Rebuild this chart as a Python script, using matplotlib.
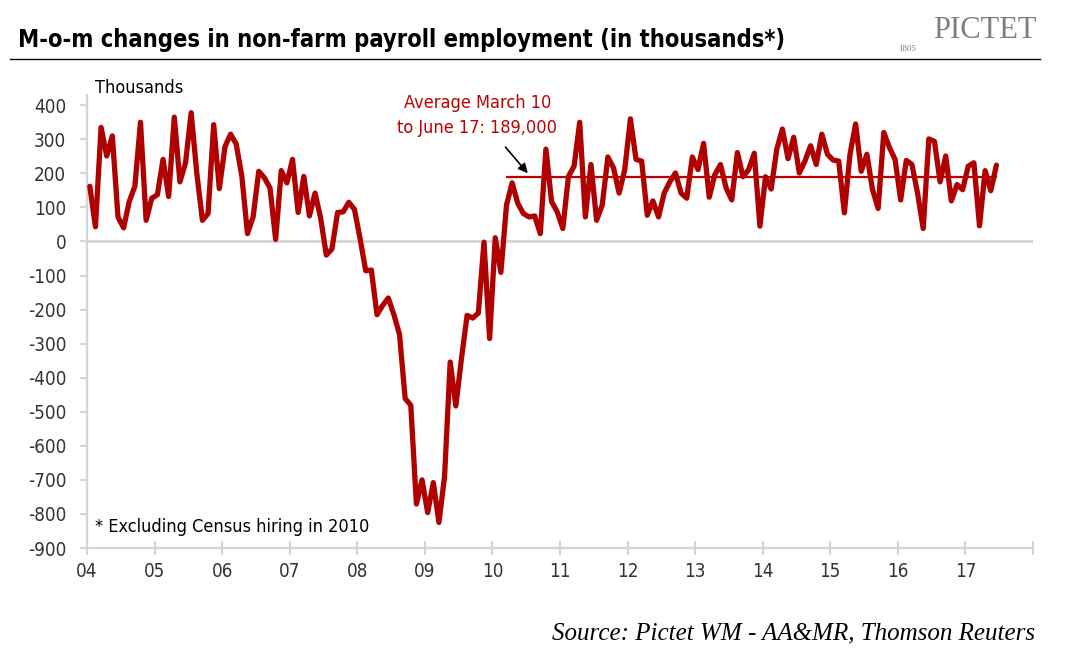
import numpy as np
import matplotlib
matplotlib.use("Agg")
import matplotlib.pyplot as plt

# Monthly changes in non-farm payrolls (thousands), Jan 2004 - Jun 2017
y2004 = [162, 43, 335, 251, 310, 72, 40, 117, 162, 350, 62, 127]
y2005 = [137, 241, 132, 365, 175, 231, 378, 200, 62, 82, 343, 155]
y2006 = [278, 315, 286, 191, 23, 72, 206, 187, 157, 6, 208, 172]
y2007 = [241, 85, 191, 75, 142, 68, -40, -22, 85, 87, 115, 94]
y2008 = [8, -86, -84, -215, -188, -166, -215, -273, -461, -481, -771, -700]
y2009 = [-796, -708, -825, -690, -354, -483, -344, -217, -225, -210, -2, -285]
y2010 = [11, -91, 107, 172, 112, 82, 72, 75, 23, 271, 117, 87]
y2011 = [38, 191, 221, 350, 72, 226, 62, 107, 248, 216, 142, 211]
y2012 = [360, 241, 236, 77, 119, 72, 142, 175, 201, 142, 127, 248]
y2013 = [211, 288, 130, 196, 226, 157, 122, 261, 190, 211, 259, 45]
y2014 = [190, 154, 271, 330, 243, 306, 201, 236, 281, 226, 315, 256]
y2015 = [239, 236, 84, 256, 345, 206, 256, 152, 97, 320, 276, 241]
y2016 = [122, 238, 226, 142, 38, 301, 294, 175, 251, 119, 167, 152]
y2017 = [221, 231, 46, 208, 149, 224]

year_labels = ["04", "05", "06", "07", "08", "09", "10", "11", "12", "13",
               "14", "15", "16", "17", ""]
avg_value = 189          # average March 2010 - June 2017
avg_start_month = 74     # March 2010 (months since Jan 2004)

values = np.array(y2004 + y2005 + y2006 + y2007 + y2008 + y2009 + y2010 +
                  y2011 + y2012 + y2013 + y2014 + y2015 + y2016 + y2017)
months = np.arange(len(values)) + 0.5

W, H = 1069, 662
fig = plt.figure(figsize=(W / 100, H / 100), dpi=100)
ax = fig.add_axes([87 / W, 1 - 548 / H, (1033 - 87) / W, (548 - 95) / H])

red = "#B00000"
grey = "#D4D4D4"
NF = dict(family="DejaVu Sans", stretch="condensed")
SERIF = ["Liberation Serif", "DejaVu Serif"]

ax.axhline(0, color=grey, lw=2, zorder=1)
ax.plot(months, values, color=red, lw=3.8, solid_joinstyle="round",
        solid_capstyle="round", zorder=3)
avg_x = months[avg_start_month:]
ax.plot(avg_x, np.full(len(avg_x), avg_value), color="#C00000", lw=1.6, zorder=2)

ax.set_xlim(0, 168)
ax.set_ylim(-900, 430)
ax.set_xticks(np.arange(0, 169, 12))
ax.set_xticklabels(year_labels)
ax.set_yticks(np.arange(-900, 401, 100))
ax.set_yticklabels([str(v) for v in range(-900, 401, 100)])

for s in ["top", "right"]:
    ax.spines[s].set_visible(False)
for s in ["left", "bottom"]:
    ax.spines[s].set_color(grey)
    ax.spines[s].set_linewidth(1.6)
ax.tick_params(axis="y", direction="out", length=5, width=1.5, color=grey, pad=10,
               labelsize=13.5, labelcolor="#333333")
ax.tick_params(axis="x", direction="inout", length=10, width=1.5, color=grey, pad=5,
               labelsize=13.5, labelcolor="#333333")
for lab in ax.get_xticklabels() + ax.get_yticklabels():
    lab.set_family("DejaVu Sans")
    lab.set_stretch("condensed")

# annotation
ax.annotate("", xy=(78.6, 194), xytext=(74.0, 283),
            arrowprops=dict(arrowstyle="-|>", color="black", lw=1.2,
                            mutation_scale=14), zorder=4)
ax.text(69.3, 370, "Average March 10\nto June 17: 189,000", ha="center", va="center",
        color="#C00000", fontsize=13, linespacing=1.45, **NF)

def fx(x):
    return x / W

def fy(y):
    return 1 - y / H

fig.text(fx(18), fy(40), "M-o-m changes in non-farm payroll employment (in thousands*)",
         ha="left", va="center", fontsize=17, fontweight="bold", color="black", **NF)
fig.add_artist(plt.Line2D([fx(10), fx(1040)], [fy(59), fy(59)], color="black", lw=1.0))
fig.text(fx(1037), fy(31), "PICTET", ha="right", va="center", fontsize=22,
         family=SERIF, color="#7F7F7F")
fig.text(fx(907), fy(49), "1805", ha="center", va="center", fontsize=6.5,
         family=SERIF, color="#7F7F7F")
fig.text(fx(95), fy(88), "Thousands", ha="left", va="center", fontsize=13,
         color="black", **NF)
fig.text(fx(95), fy(527), "* Excluding Census hiring in 2010", ha="left", va="center",
         fontsize=13, color="black", **NF)
fig.text(fx(1035), fy(633), "Source: Pictet WM - AA&MR, Thomson Reuters", ha="right",
         va="center", fontsize=18, style="italic", family=SERIF, color="black")

fig.savefig("out.png", dpi=100)
